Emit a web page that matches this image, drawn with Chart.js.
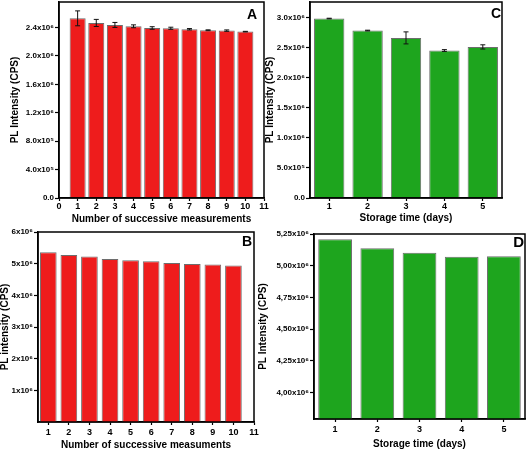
<!DOCTYPE html>
<html>
<head>
<meta charset="utf-8">
<script src="https://cdn.jsdelivr.net/npm/chart.js@4/dist/chart.umd.min.js"></script>
<style>
  body { margin: 0; background: #fff; width: 529px; height: 452px; position: relative; overflow: hidden; }
  canvas { position: absolute; }
</style>
</head>
<body>
<canvas id="chartA" width="275" height="225" style="left:0;top:0"></canvas>
<canvas id="chartC" width="264" height="225" style="left:265px;top:0"></canvas>
<canvas id="chartB" width="265" height="227" style="left:0;top:225px"></canvas>
<canvas id="chartD" width="274" height="227" style="left:255px;top:225px"></canvas>
<script>
// panel A - successive measurements
const runsA = [1, 2, 3, 4, 5, 6, 7, 8, 9, 10];
const valuesA = [2.53e6, 2.465e6, 2.437e6, 2.418e6, 2.394e6, 2.39e6, 2.376e6, 2.362e6, 2.357e6, 2.343e6];
const errorsA = [0.105e6, 0.05e6, 0.035e6, 0.02e6, 0.018e6, 0.015e6, 0.01e6, 0.006e6, 0.01e6, 0.004e6];
const xTicksA = [0, 1, 2, 3, 4, 5, 6, 7, 8, 9, 10, 11];
const yTickValsA = [0, 4e5, 8e5, 1.2e6, 1.6e6, 2.0e6, 2.4e6];
const yTicksA = ["0.0", "4.0x10⁵", "8.0x10⁵", "1.2x10⁶", "1.6x10⁶", "2.0x10⁶", "2.4x10⁶"];

// panel B - successive measurements
const runsB = [1, 2, 3, 4, 5, 6, 7, 8, 9, 10];
const valuesB = [5.36e6, 5.27e6, 5.23e6, 5.15e6, 5.11e6, 5.08e6, 5.02e6, 4.99e6, 4.97e6, 4.94e6];
const xTicksB = [1, 2, 3, 4, 5, 6, 7, 8, 9, 10, 11];
const yTickValsB = [1e6, 2e6, 3e6, 4e6, 5e6, 6e6];
const yTicksB = ["1x10⁶", "2x10⁶", "3x10⁶", "4x10⁶", "5x10⁶", "6x10⁶"];

// panel C - storage time
const daysC = ["1", "2", "3", "4", "5"];
const valuesC = [2.985e6, 2.785e6, 2.663e6, 2.453e6, 2.513e6];
const errorsC = [0.005e6, 0.006e6, 0.1e6, 0.015e6, 0.035e6];
const yTickValsC = [0, 5e5, 1.0e6, 1.5e6, 2.0e6, 2.5e6, 3.0e6];
const yTicksC = ["0.0", "5.0x10⁵", "1.0x10⁶", "1.5x10⁶", "2.0x10⁶", "2.5x10⁶", "3.0x10⁶"];

// panel D - storage time
const daysD = ["1", "2", "3", "4", "5"];
const valuesD = [5.208e6, 5.137e6, 5.103e6, 5.071e6, 5.074e6];
const yTickValsD = [4.0e6, 4.25e6, 4.5e6, 4.75e6, 5.0e6, 5.25e6];
const yTicksD = ["4,00x10⁶", "4,25x10⁶", "4,50x10⁶", "4,75x10⁶", "5,00x10⁶", "5,25x10⁶"];

const red = "#ee1c1c";
const green = "#1ea51e";
const barEdge = "#6d6d6d";

Chart.defaults.font.family = "'Liberation Sans', Arial, sans-serif";
Chart.defaults.font.weight = "bold";
Chart.defaults.color = "#000";
Chart.defaults.animation = false;

const framePlugin = {
  id: "frame",
  afterDraw(chart) {
    const { ctx, chartArea: a } = chart;
    ctx.save();
    ctx.strokeStyle = "#000";
    ctx.lineWidth = 1.5;
    ctx.strokeRect(a.left, a.top, a.right - a.left, a.bottom - a.top);
    ctx.restore();
  },
};

const letterPlugin = {
  id: "letter",
  afterDraw(chart, args, opts) {
    if (!opts.text) return;
    const { ctx, chartArea: a } = chart;
    ctx.save();
    ctx.font = "bold " + opts.size + "px 'Liberation Sans', Arial, sans-serif";
    ctx.fillStyle = "#000";
    ctx.textAlign = "right";
    ctx.textBaseline = "alphabetic";
    ctx.fillText(opts.text, a.right - opts.dx, a.top + opts.dy);
    ctx.restore();
  },
};

const errorPlugin = {
  id: "errs",
  afterDatasetsDraw(chart, args, opts) {
    if (!opts.values) return;
    const ctx = chart.ctx;
    const y = chart.scales.y;
    const meta = chart.getDatasetMeta(0);
    const vals = chart.data.datasets[0].data;
    ctx.save();
    ctx.strokeStyle = "#111";
    ctx.lineWidth = 1;
    meta.data.forEach((bar, i) => {
      const v = typeof vals[i] === "object" ? vals[i].y : vals[i];
      const hi = y.getPixelForValue(v + opts.values[i]);
      const lo = y.getPixelForValue(v - opts.values[i]);
      ctx.beginPath();
      ctx.moveTo(bar.x, hi); ctx.lineTo(bar.x, lo);
      ctx.moveTo(bar.x - 2.5, hi); ctx.lineTo(bar.x + 2.5, hi);
      ctx.moveTo(bar.x - 2.5, lo); ctx.lineTo(bar.x + 2.5, lo);
      ctx.stroke();
    });
    ctx.restore();
  },
};

Chart.register(framePlugin, letterPlugin, errorPlugin);

const yScale = (min, max, tickVals, labels, width, title, pad) => ({
  min: min,
  max: max,
  afterBuildTicks: (s) => {
    s.ticks = tickVals.map((v) => ({ value: v }));
  },
  ticks: {
    autoSkip: false,
    callback: (v, i) => labels[i],
    font: { size: 8, weight: "bold" },
    color: "#000",
    padding: 1,
  },
  grid: { drawOnChartArea: false, color: "#000", tickLength: 4, tickWidth: 1.2 },
  border: { color: "#000", width: 1.5 },
  title: {
    display: true,
    text: title,
    color: "#000",
    font: { size: 10, weight: "bold", lineHeight: 1 },
    padding: { top: pad, bottom: 0 },
  },
  afterFit: (s) => {
    s.width = width;
    s.paddingTop = 0;
    s.paddingBottom = 0;
  },
});

const xTitle = (text, pad) => ({
  display: true,
  text: text,
  color: "#000",
  font: { size: 10, weight: "bold", lineHeight: 1 },
  padding: { top: 0, bottom: pad },
});

const xLinear = (min, tickVals, height, title, pad, labelPad) => ({
  type: "linear",
  min: min,
  max: 11,
  offset: false,
  afterBuildTicks: (s) => {
    s.ticks = tickVals.map((v) => ({ value: v }));
  },
  ticks: { autoSkip: false, maxRotation: 0, font: { size: 9, weight: "bold" }, color: "#000", padding: labelPad },
  grid: { drawOnChartArea: false, offset: false, color: "#000", tickLength: 3, tickWidth: 1.2 },
  border: { color: "#000", width: 1.5 },
  title: xTitle(title, pad),
  afterFit: (s) => {
    s.height = height;
    s.paddingLeft = 0;
    s.paddingRight = 0;
  },
});

const xCategory = (height, title, pad, labelPad) => ({
  type: "category",
  offset: true,
  ticks: { maxRotation: 0, font: { size: 9, weight: "bold" }, color: "#000", padding: labelPad },
  grid: { drawOnChartArea: false, offset: false, color: "#000", tickLength: 3, tickWidth: 1.2 },
  border: { color: "#000", width: 1.5 },
  title: xTitle(title, pad),
  afterFit: (s) => {
    s.height = height;
    s.paddingLeft = 0;
    s.paddingRight = 0;
  },
});

const chartA = new Chart(document.querySelector("#chartA"), {
  type: "bar",
  data: {
    datasets: [{
      data: runsA.map((r, i) => ({ x: r, y: valuesA[i] })),
      backgroundColor: red,
      borderColor: barEdge,
      borderWidth: 1,
      barPercentage: 0.86,
      categoryPercentage: 1,
    }],
  },
  options: {
    responsive: false,
    layout: { padding: { left: 0, top: 2, right: 11, bottom: 0 } },
    plugins: {
      legend: { display: false },
      tooltip: { enabled: false },
      letter: { text: "A", size: 14, dx: 7, dy: 17 },
      errs: { values: errorsA },
    },
    scales: {
      x: xLinear(0, xTicksA, 27, "Number of successive measurements", 1, 0),
      y: yScale(0, 2.76e6, yTickValsA, yTicksA, 59, "PL Intensity (CPS)", 10),
    },
  },
});

const chartB = new Chart(document.querySelector("#chartB"), {
  type: "bar",
  data: {
    datasets: [{
      data: runsB.map((r, i) => ({ x: r, y: valuesB[i] })),
      backgroundColor: red,
      borderColor: barEdge,
      borderWidth: 1,
      barPercentage: 0.81,
      categoryPercentage: 1,
    }],
  },
  options: {
    responsive: false,
    layout: { padding: { left: 0, top: 7, right: 11, bottom: 0 } },
    plugins: {
      legend: { display: false },
      tooltip: { enabled: false },
      letter: { text: "B", size: 14, dx: 2, dy: 14 },
    },
    scales: {
      x: xLinear(0.5, xTicksB, 30, "Number of successive measuments", 2, 2),
      y: yScale(0, 6e6, yTickValsB, yTicksB, 38, "PL intensity (CPS)", 0),
    },
  },
});

const chartC = new Chart(document.querySelector("#chartC"), {
  type: "bar",
  data: {
    labels: daysC,
    datasets: [{
      data: valuesC,
      backgroundColor: green,
      borderColor: barEdge,
      borderWidth: 1,
      barPercentage: 0.79,
      categoryPercentage: 1,
    }],
  },
  options: {
    responsive: false,
    layout: { padding: { left: 0, top: 2, right: 27, bottom: 0 } },
    plugins: {
      legend: { display: false },
      tooltip: { enabled: false },
      letter: { text: "C", size: 14, dx: 1, dy: 16 },
      errs: { values: errorsC },
    },
    scales: {
      x: xCategory(27, "Storage time (days)", 2, 0),
      y: yScale(0, 3.26e6, yTickValsC, yTicksC, 45, "PL Intensity (CPS)", 0),
    },
  },
});

const chartD = new Chart(document.querySelector("#chartD"), {
  type: "bar",
  data: {
    labels: daysD,
    datasets: [{
      data: valuesD,
      backgroundColor: green,
      borderColor: barEdge,
      borderWidth: 1,
      barPercentage: 0.8,
      categoryPercentage: 1,
    }],
  },
  options: {
    responsive: false,
    layout: { padding: { left: 0, top: 9, right: 4, bottom: 0 } },
    plugins: {
      legend: { display: false },
      tooltip: { enabled: false },
      letter: { text: "D", size: 15, dx: 1, dy: 13 },
    },
    scales: {
      x: xCategory(33, "Storage time (days)", 3, 2),
      y: yScale(3.79e6, 5.25e6, yTickValsD, yTicksD, 59, "PL Intensity (CPS)", 3),
    },
  },
});
</script>
</body>
</html>
